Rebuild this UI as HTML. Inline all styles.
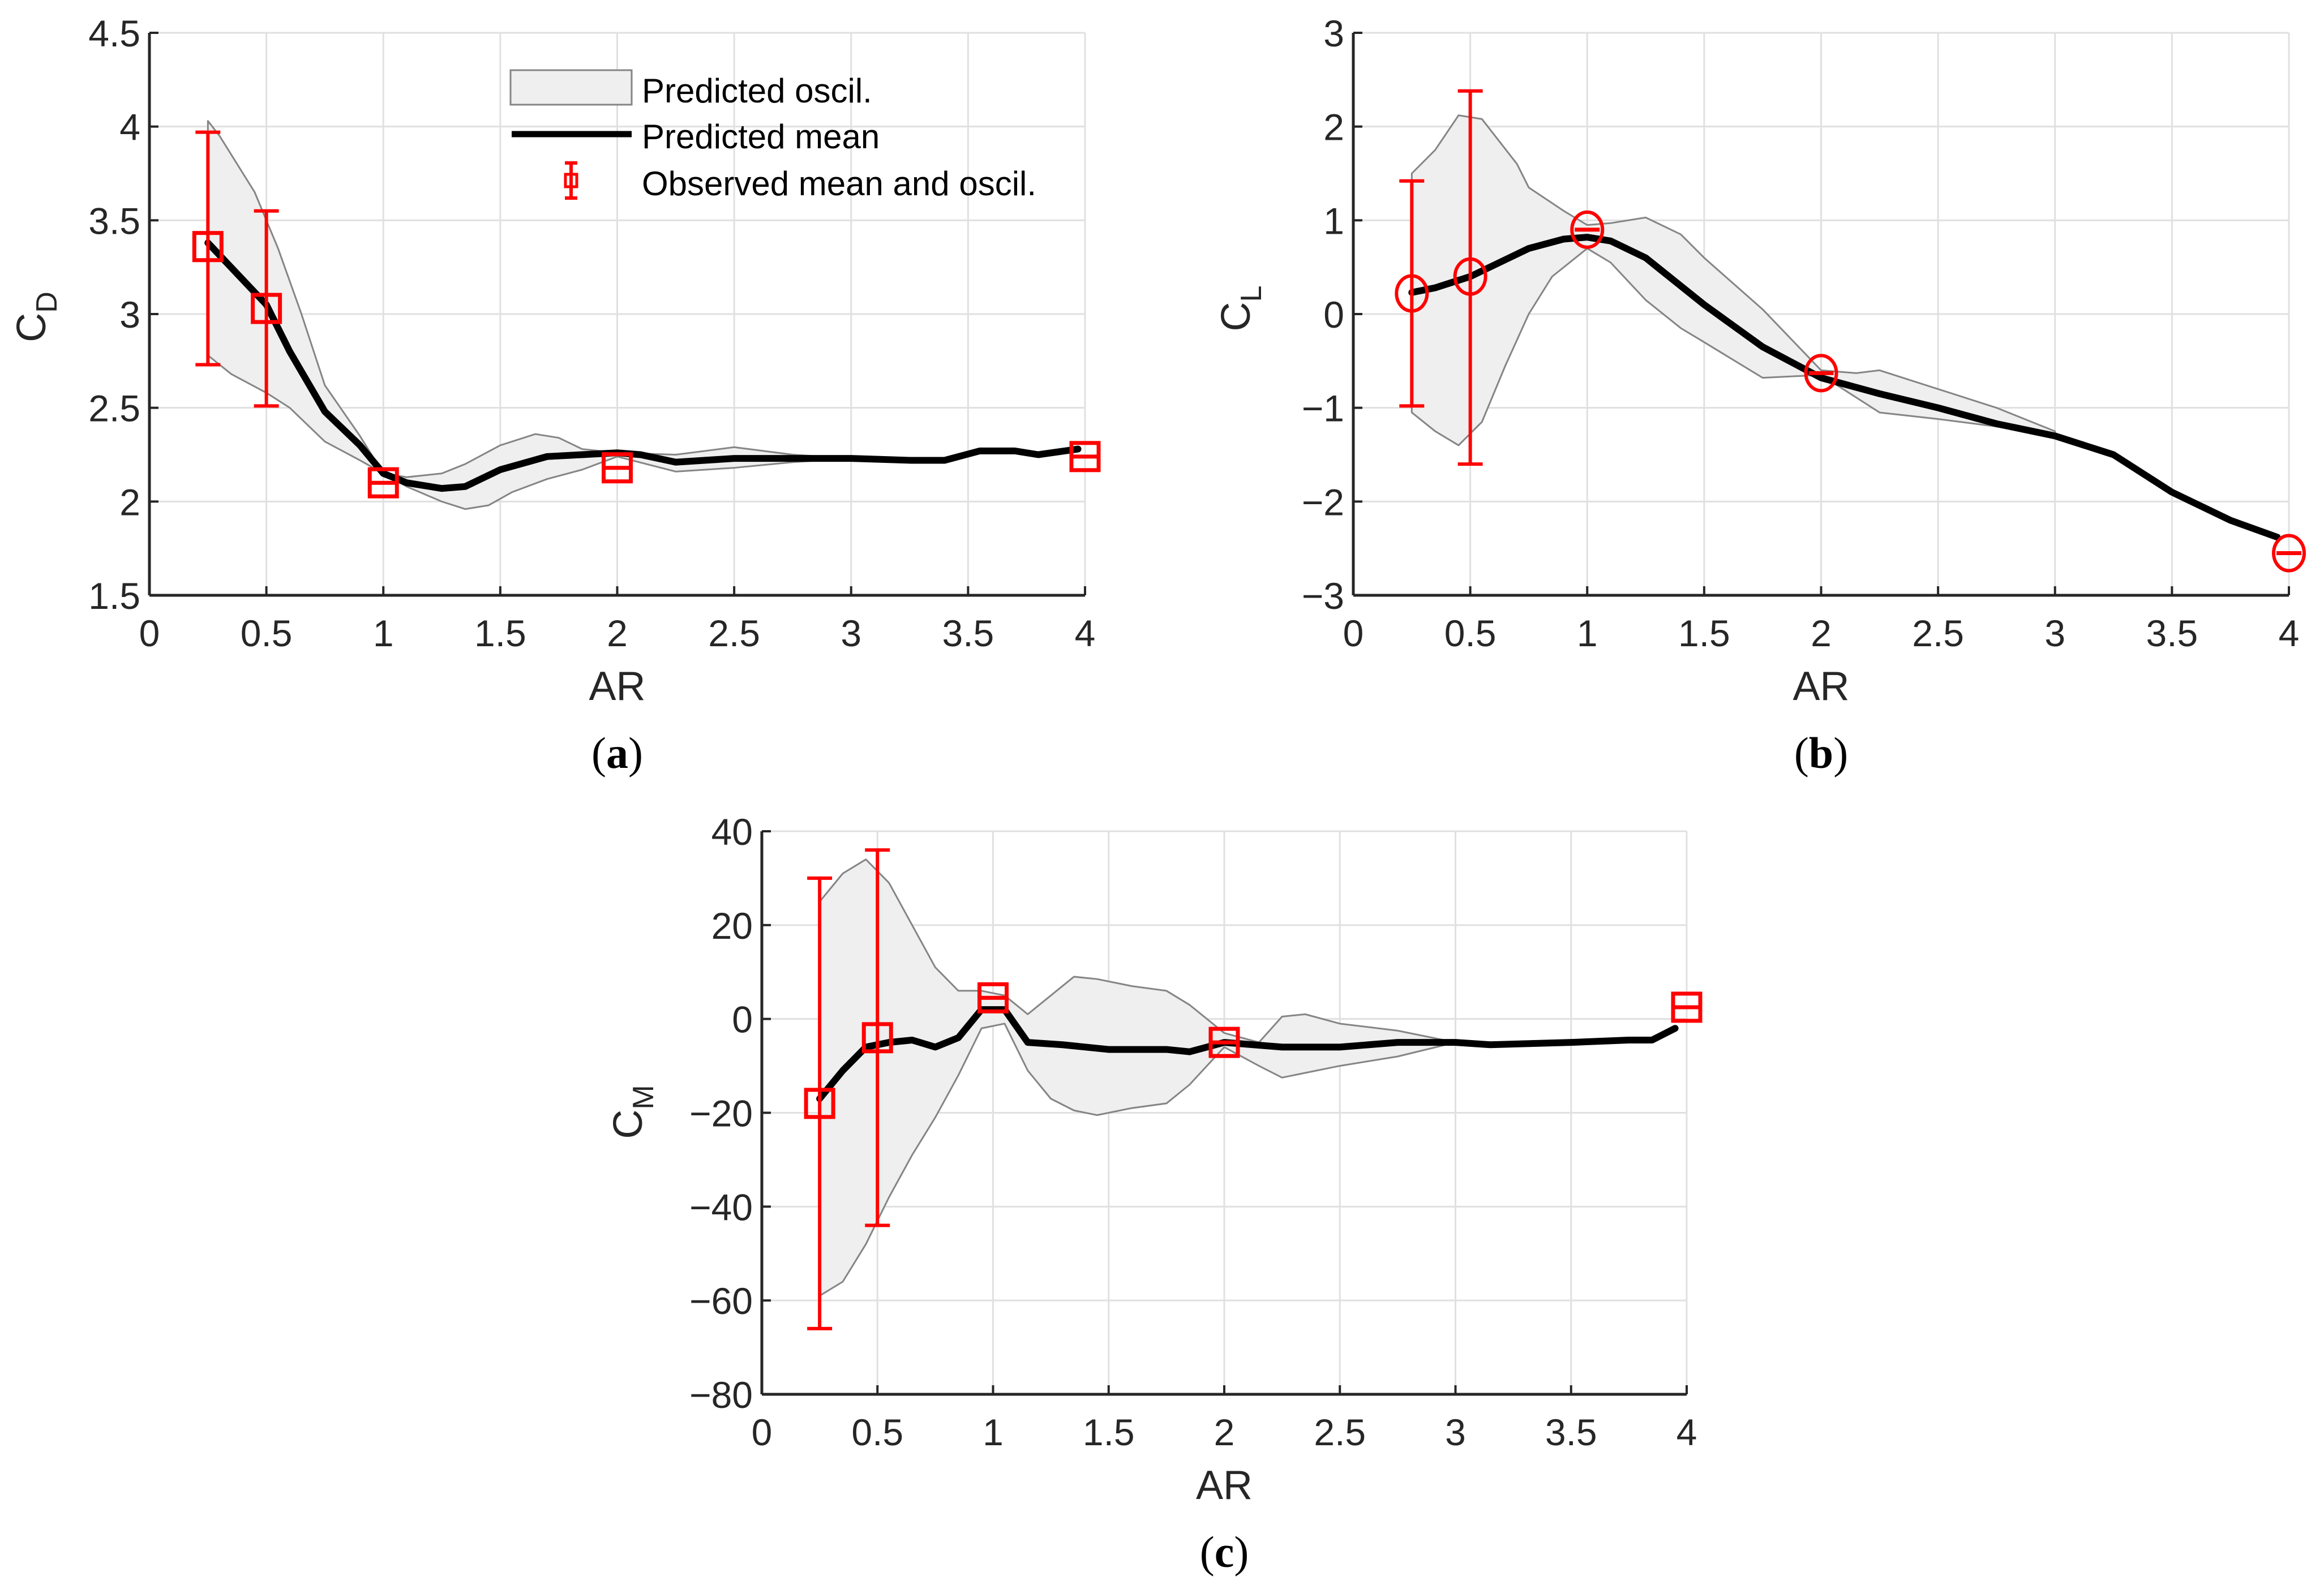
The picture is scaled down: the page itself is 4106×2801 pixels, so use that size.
<!DOCTYPE html>
<html><head><meta charset="utf-8"><style>
html,body{margin:0;padding:0;background:#fff;}
svg{display:block;font-family:"Liberation Sans",Arial,sans-serif;}
</style></head><body>
<svg id="fig" width="4106" height="2801" viewBox="0 0 4106 2801" xmlns="http://www.w3.org/2000/svg">
<rect width="4106" height="2801" fill="#fff"/>
</svg>
<script>
// ---- Panel (a) data: C_D ----
const cdMeanX = [0.25,0.5,0.6,0.75,0.9,1.0,1.1,1.25,1.35,1.5,1.7,1.85,2.0,2.1,2.25,2.5,2.75,3.0,3.25,3.4,3.55,3.7,3.8,3.97];
const cdMeanY = [3.38,3.05,2.8,2.48,2.3,2.15,2.1,2.07,2.08,2.17,2.24,2.25,2.26,2.25,2.21,2.23,2.23,2.23,2.22,2.22,2.27,2.27,2.25,2.28];
const cdUpX = [0.25,0.3,0.45,0.55,0.65,0.75,0.9,1.0,1.1,1.25,1.35,1.5,1.65,1.75,1.85,2.0,2.25,2.5,2.75,3.0];
const cdUpY = [4.03,3.95,3.65,3.35,3.0,2.62,2.35,2.15,2.13,2.15,2.2,2.3,2.36,2.34,2.28,2.26,2.25,2.29,2.25,2.23];
const cdLoX = [0.25,0.35,0.5,0.6,0.75,0.9,1.0,1.1,1.25,1.35,1.45,1.55,1.7,1.85,2.0,2.25,2.5,2.75,3.0];
const cdLoY = [2.78,2.68,2.58,2.5,2.32,2.22,2.15,2.08,2.0,1.96,1.98,2.05,2.12,2.17,2.24,2.16,2.18,2.21,2.23];
const cdObsX = [0.25,0.5,1,2,4];
const cdObsY = [3.36,3.03,2.1,2.18,2.24];
const cdObsLo = [2.73,2.51,null,null,null];
const cdObsHi = [3.97,3.55,null,null,null];
const cdTicksY = [1.5,2,2.5,3,3.5,4,4.5];
const cdTickLabels = ["1.5","2","2.5","3","3.5","4","4.5"];

// ---- Panel (b) data: C_L ----
const clMeanX = [0.25,0.35,0.5,0.6,0.75,0.9,1.0,1.1,1.25,1.4,1.5,1.75,2.0,2.25,2.5,2.75,3.0,3.25,3.5,3.75,3.95];
const clMeanY = [0.23,0.28,0.4,0.52,0.7,0.8,0.82,0.78,0.6,0.3,0.1,-0.35,-0.68,-0.85,-1.0,-1.17,-1.3,-1.5,-1.9,-2.2,-2.38];
const clUpX = [0.25,0.35,0.45,0.55,0.7,0.75,0.9,1.0,1.1,1.25,1.4,1.5,1.75,2.0,2.15,2.25,2.5,2.75,3.0];
const clUpY = [1.5,1.75,2.12,2.08,1.6,1.35,1.1,0.95,0.97,1.03,0.85,0.6,0.05,-0.6,-0.63,-0.6,-0.8,-1.0,-1.25];
const clLoX = [0.25,0.35,0.45,0.55,0.65,0.75,0.85,1.0,1.1,1.25,1.4,1.5,1.75,2.0,2.25,2.5,2.75,3.0];
const clLoY = [-1.05,-1.25,-1.4,-1.15,-0.55,0.0,0.4,0.7,0.55,0.15,-0.15,-0.3,-0.68,-0.65,-1.05,-1.12,-1.2,-1.3];
const clObsX = [0.25,0.5,1,2,4];
const clObsY = [0.22,0.4,0.9,-0.63,-2.55];
const clObsLo = [-0.98,-1.6,null,null,null];
const clObsHi = [1.42,2.38,null,null,null];
const clTicksY = [-3,-2,-1,0,1,2,3];
const clTickLabels = ["\u22123","\u22122","\u22121","0","1","2","3"];

// ---- Panel (c) data: C_M ----
const cmMeanX = [0.25,0.35,0.45,0.55,0.65,0.75,0.85,0.95,1.05,1.15,1.3,1.5,1.75,1.85,2.0,2.25,2.5,2.75,3.0,3.15,3.5,3.75,3.85,3.95];
const cmMeanY = [-17,-11,-6,-5,-4.5,-6,-4,2,2,-5,-5.5,-6.5,-6.5,-7,-5,-6,-6,-5,-5,-5.5,-5,-4.5,-4.5,-2];
const cmUpX = [0.25,0.35,0.45,0.55,0.75,0.85,0.95,1.05,1.15,1.25,1.35,1.45,1.6,1.75,1.85,2.0,2.15,2.25,2.35,2.5,2.75,3.0];
const cmUpY = [25,31,34,29,11,6,6,5,1,5,9,8.5,7,6,3,-3,-5,0.5,1,-1,-2.5,-5];
const cmLoX = [0.25,0.35,0.45,0.55,0.65,0.75,0.85,0.95,1.05,1.15,1.25,1.35,1.45,1.6,1.75,1.85,2.0,2.15,2.25,2.5,2.75,3.0];
const cmLoY = [-59,-56,-48,-38,-29,-21,-12,-2,-1,-11,-17,-19.5,-20.5,-19,-18,-14,-6,-10,-12.5,-10,-8,-5];
const cmObsX = [0.25,0.5,1,2,4];
const cmObsY = [-18,-4,4.5,-5,2.5];
const cmObsLo = [-66,-44,null,null,null];
const cmObsHi = [30,36,null,null,null];
const cmTicksY = [-80,-60,-40,-20,0,20,40];
const cmTickLabels = ["\u221280","\u221260","\u221240","\u221220","0","20","40"];

const xTicks = [0,0.5,1,1.5,2,2.5,3,3.5,4];
const xTickLabels = ["0","0.5","1","1.5","2","2.5","3","3.5","4"];

const NS = "http://www.w3.org/2000/svg";
const svg = document.getElementById('fig');
function mk(tag, attrs, parent){
  const e = document.createElementNS(NS, tag);
  for (const k in attrs) e.setAttribute(k, attrs[k]);
  (parent||svg).appendChild(e);
  return e;
}

function panel(cfg){
  const g = mk('g', {});
  
  
  const L=cfg.L,R=cfg.R,T=cfg.T,B=cfg.B;
  const ymin=cfg.ticks[0], ymax=cfg.ticks[cfg.ticks.length-1];
  const sx = v => L + (v-0)/(4-0)*(R-L);
  const sy = v => B - (v-ymin)/(ymax-ymin)*(B-T);
  const grid = mk('g', {}, g);
  
  
  xTicks.forEach(t => { if (t>0) mk('line',{x1:sx(t),x2:sx(t),y1:T,y2:B,stroke:'#e0e0e0','stroke-width':3},grid); });
  cfg.ticks.forEach(t => { if (t>ymin) mk('line',{x1:L,x2:R,y1:sy(t),y2:sy(t),stroke:'#e0e0e0','stroke-width':3},grid); });
  let d = 'M';
  cfg.upX.forEach((x,i)=>{ d += (i?' L':'')+sx(x)+','+sy(cfg.upY[i]); });
  for (let i=cfg.loX.length-1;i>=0;i--) d += ' L'+sx(cfg.loX[i])+','+sy(cfg.loY[i]);
  d += ' Z';
  const band = mk('path',{d:d,fill:'#efefef',stroke:'#858585','stroke-width':3,'stroke-linejoin':'round'},g);
  
  
  const pts = cfg.meanX.map((x,i)=>sx(x)+','+sy(cfg.meanY[i])).join(' ');
  const mean = mk('polyline',{points:pts,fill:'none',stroke:'#000','stroke-width':12,'stroke-linejoin':'round','stroke-linecap':'round'},g);
  
  
  cfg.obsX.forEach((x,i)=>{
    const og = mk('g',{},g);
    
    
    const cx=sx(x), cy=sy(cfg.obsY[i]);
    if (cfg.obsLo[i]!==null){
      const y1=sy(cfg.obsLo[i]), y2=sy(cfg.obsHi[i]);
      mk('line',{x1:cx,x2:cx,y1:y1,y2:y2,stroke:'#f00','stroke-width':6},og);
      mk('line',{x1:cx-22,x2:cx+22,y1:y1,y2:y1,stroke:'#f00','stroke-width':6},og);
      mk('line',{x1:cx-22,x2:cx+22,y1:y2,y2:y2,stroke:'#f00','stroke-width':6},og);
    } else {
      mk('line',{x1:cx-22,x2:cx+22,y1:cy,y2:cy,stroke:'#f00','stroke-width':7},og);
    }
    if (cfg.marker==='circle') mk('ellipse',{cx:cx,cy:cy,rx:27,ry:31,fill:'none',stroke:'#f00','stroke-width':6},og);
    else mk('rect',{x:cx-24,y:cy-24,width:48,height:48,fill:'none',stroke:'#f00','stroke-width':7},og);
  });
  const ax = mk('g',{},g);
  
  
  mk('line',{x1:L,x2:R,y1:B,y2:B,stroke:'#262626','stroke-width':5},ax);
  mk('line',{x1:L,x2:L,y1:T,y2:B,stroke:'#262626','stroke-width':5},ax);
  xTicks.forEach((t,i)=>{
    mk('line',{x1:sx(t),x2:sx(t),y1:B,y2:B-16,stroke:'#262626','stroke-width':4},ax);
    const tx = mk('text',{x:sx(t),y:B+90,'font-size':66,'text-anchor':'middle',fill:'#262626'},ax);
    tx.textContent = xTickLabels[i];
    
    
  });
  cfg.ticks.forEach((t,i)=>{
    mk('line',{x1:L,x2:L+16,y1:sy(t),y2:sy(t),stroke:'#262626','stroke-width':4},ax);
    const tx = mk('text',{x:L-16,y:sy(t)+24,'font-size':66,'text-anchor':'end',fill:'#262626'},ax);
    tx.textContent = cfg.labels[i];
    
    
  });
  const xl = mk('text',{x:(L+R)/2,y:B+185,'font-size':72,'text-anchor':'middle',fill:'#262626'},g);
  xl.textContent='AR';
  
  
  const yl = mk('text',{x:0,y:0,'font-size':72,fill:'#262626',transform:'translate('+cfg.ylx+','+cfg.yly+') rotate(-90)','text-anchor':'middle'},g);
  yl.innerHTML = 'C<tspan font-size="52" dy="20">'+cfg.sub+'</tspan>';
  
  
  const cap = mk('text',{x:(L+R)/2,y:B+305,'font-size':78,'text-anchor':'middle',fill:'#000','font-family':'Liberation Serif, serif'},g);
  cap.innerHTML = '(<tspan font-weight="bold">'+cfg.cap+'</tspan>)';
  
  
}

panel({name:'panel-a-cd',L:264,R:1917,T:58,B:1052,ticks:cdTicksY,labels:cdTickLabels,meanX:cdMeanX,meanY:cdMeanY,upX:cdUpX,upY:cdUpY,loX:cdLoX,loY:cdLoY,obsX:cdObsX,obsY:cdObsY,obsLo:cdObsLo,obsHi:cdObsHi,marker:'square',sub:'D',cap:'a',ylx:80,yly:560});
panel({name:'panel-b-cl',L:2391,R:4044,T:58,B:1052,ticks:clTicksY,labels:clTickLabels,meanX:clMeanX,meanY:clMeanY,upX:clUpX,upY:clUpY,loX:clLoX,loY:clLoY,obsX:clObsX,obsY:clObsY,obsLo:clObsLo,obsHi:clObsHi,marker:'circle',sub:'L',cap:'b',ylx:2208,yly:545});
panel({name:'panel-c-cm',L:1346,R:2980,T:1469,B:2464,ticks:cmTicksY,labels:cmTickLabels,meanX:cmMeanX,meanY:cmMeanY,upX:cmUpX,upY:cmUpY,loX:cmLoX,loY:cmLoY,obsX:cmObsX,obsY:cmObsY,obsLo:cmObsLo,obsHi:cmObsHi,marker:'square',sub:'M',cap:'c',ylx:1134,yly:1965});

const lg = mk('g',{});


mk('rect',{x:902,y:124,width:214,height:61,fill:'#efefef',stroke:'#858585','stroke-width':3},lg);
mk('line',{x1:904,x2:1116,y1:237,y2:237,stroke:'#000','stroke-width':11},lg);
mk('line',{x1:1009,x2:1009,y1:288,y2:350,stroke:'#f00','stroke-width':6},lg);
mk('line',{x1:998,x2:1020,y1:288,y2:288,stroke:'#f00','stroke-width':6},lg);
mk('line',{x1:998,x2:1020,y1:350,y2:350,stroke:'#f00','stroke-width':6},lg);
mk('rect',{x:999,y:308,width:20,height:22,fill:'none',stroke:'#f00','stroke-width':5},lg);
const legTexts = ['Predicted oscil.','Predicted mean','Observed mean and oscil.'];
const legY = [181,262,345];
legTexts.forEach((t,i)=>{
  const tx = mk('text',{x:1134,y:legY[i],'font-size':60,fill:'#000'},lg);
  tx.textContent = t;
  
  
});
</script>
</body></html>
